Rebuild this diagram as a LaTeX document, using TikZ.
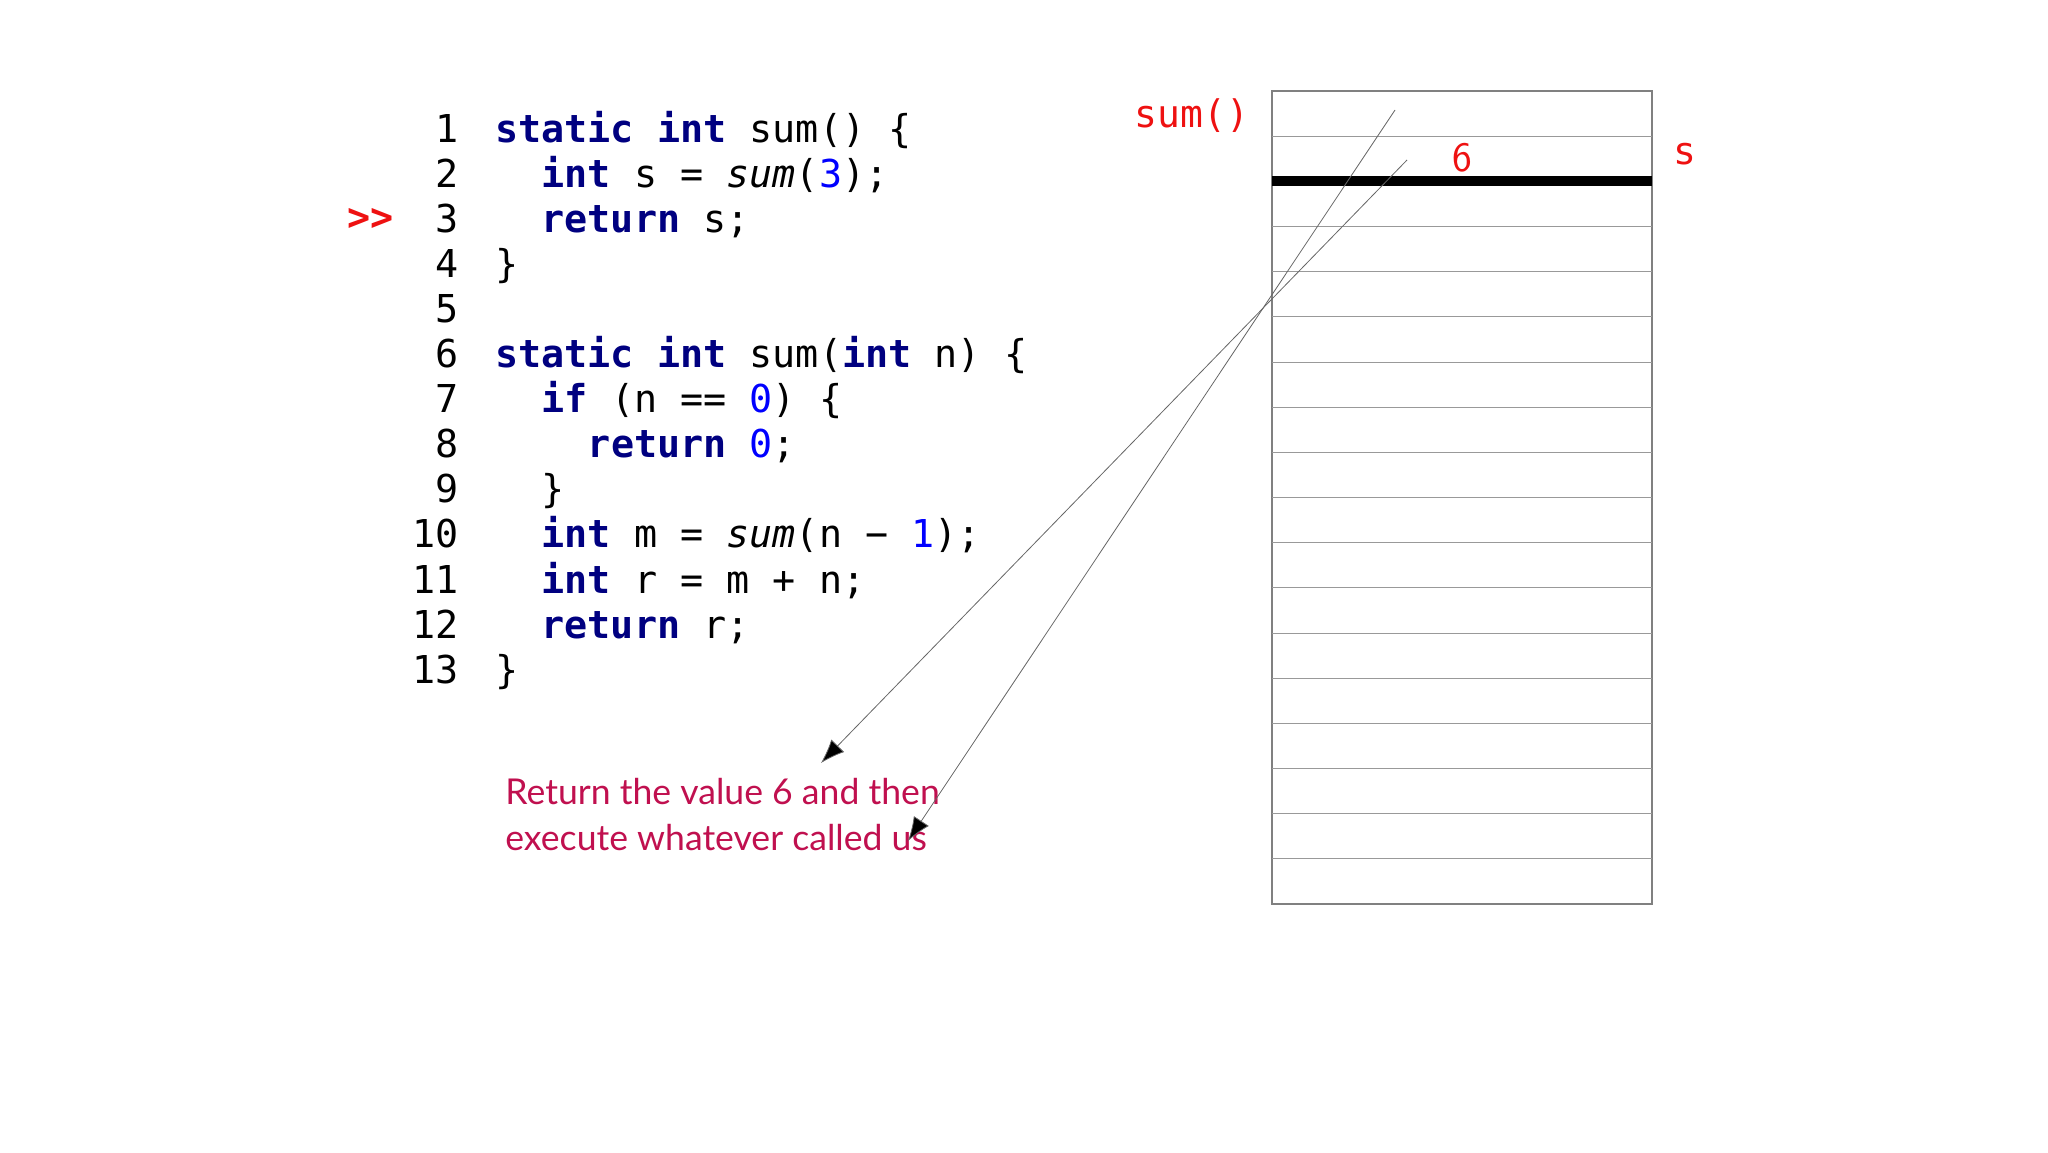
\documentclass[tikz,border=0pt]{standalone}
\usepackage{fontspec}
\setmonofont{DejaVu Sans Mono}
\newfontfamily\latofont{Lato}
\usetikzlibrary{arrows.meta}
\definecolor{kw}{HTML}{000080}
\definecolor{num}{HTML}{0000FF}
\definecolor{cap}{HTML}{C0104F}
\definecolor{redc}{HTML}{EE1111}
\newcommand{\K}[1]{\textbf{\textcolor{kw}{#1}}}
\newcommand{\N}[1]{\textcolor{num}{#1}}
\begin{document}
\begin{tikzpicture}[x=0.5pt,y=-0.5pt,
  code/.style={anchor=base west,inner sep=0,font=\ttfamily\fontsize{19.2pt}{22pt}\selectfont},
  lnum/.style={anchor=base east,inner sep=0,font=\ttfamily\fontsize{19.2pt}{22pt}\selectfont},
  redlab/.style={inner sep=0,text=redc,font=\ttfamily\fontsize{19pt}{22pt}\selectfont},
  arr/.style={draw=gray!80!black,line width=0.4pt,-{Latex[length=12pt,width=9pt,fill=black]}}]
\useasboundingbox (0,0) rectangle (2048,1152);
\foreach \i/\t in {1/{\K{static} \K{int} sum() \{},
  2/{\ \ \K{int} s = \textit{sum}(\N{3});},
  3/{\ \ \K{return} s;},
  4/{\}},
  5/{},
  6/{\K{static} \K{int} sum(\K{int} n) \{},
  7/{\ \ \K{if} (n == \N{0}) \{},
  8/{\ \ \ \ \K{return} \N{0};},
  9/{\ \ \}},
  10/{\ \ \K{int} m = \textit{sum}(n − \N{1});},
  11/{\ \ \K{int} r = m + n;},
  12/{\ \ \K{return} r;},
  13/{\}}}{
  \node[lnum] (n\i) at (459,{142+45.1*(\i-1)}) {\i};
  \node[code] (c\i) at (495,{142+45.1*(\i-1)}) {\t};
}
\node[code,text=redc] (ptr) at (347,230) {\textbf{>>}};
% stack
\draw[gray,line width=0.6pt] (1272,91) rectangle (1652,904);
\foreach \j in {1,...,17}{
  \draw[gray!80,line width=0.5pt] (1272,{91+45.17*\j}) -- (1652,{91+45.17*\j});
}
\draw[black,line width=5pt] (1272,181) -- (1652,181);
\node[redlab] (sumlab) at (1192,116) {sum()};
\node[redlab,font=\sffamily\fontsize{21pt}{24pt}\selectfont] (six) at (1462,158) {6};
\node[redlab] (slab) at (1685,154) {s};
% caption
\node[anchor=north west,align=left,inner sep=0,text=cap,font=\latofont\fontsize{17.8pt}{23pt}\selectfont] (capt) at (505,778) {Return the value 6 and then\\execute whatever called us};
\coordinate (a1) at (1395,110);
\coordinate (t1) at (908,841);
\coordinate (a2) at (1407,160);
\coordinate (t2) at (821,763);
\draw[arr] (a1) -- (t1);
\draw[arr] (a2) -- (t2);
\end{tikzpicture}
\end{document}
